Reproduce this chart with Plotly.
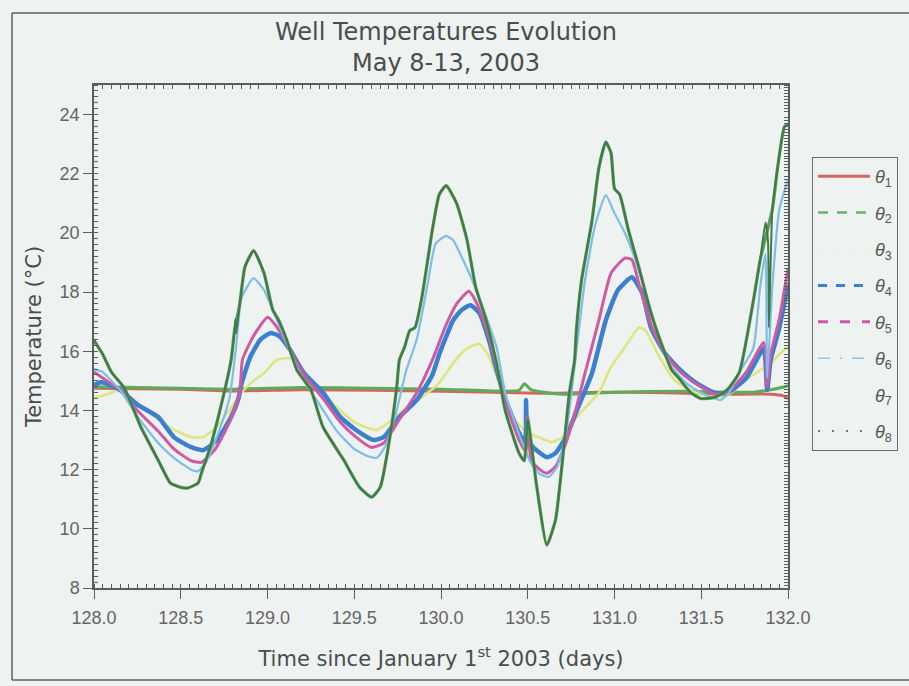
import plotly.graph_objects as go

# ---- measured well temperatures (day of year 2003, deg C) ----
t1 = [128.0, 128.5, 128.8, 129.2, 129.6, 130.0, 130.3, 130.6, 130.9, 131.3, 131.6, 131.9, 131.97, 132.0]
T1 = [14.75, 14.72, 14.66, 14.70, 14.68, 14.65, 14.62, 14.58, 14.62, 14.60, 14.55, 14.55, 14.5, 14.4]

t2 = [128.0, 128.5, 128.8, 129.2, 129.6, 130.0, 130.45, 130.48, 130.52, 130.7, 131.0, 131.4, 131.8, 131.9, 131.98, 132.0]
T2 = [14.8, 14.75, 14.72, 14.78, 14.75, 14.72, 14.68, 14.9, 14.7, 14.55, 14.62, 14.65, 14.62, 14.7, 14.8, 14.85]

t3 = [128.0, 128.05, 128.1, 128.15, 128.25, 128.37, 128.46, 128.56, 128.63, 128.7, 128.78, 128.85,
      128.92, 128.98, 129.05, 129.13, 129.19, 129.27, 129.35, 129.42, 129.51, 129.63, 129.7, 129.8,
      129.89, 129.99, 130.07, 130.15, 130.22, 130.27, 130.33, 130.41, 130.49, 130.56, 130.64, 130.7,
      130.8, 130.91, 130.98, 131.06, 131.14, 131.18, 131.25, 131.35, 131.47, 131.58, 131.65, 131.75,
      131.85, 131.9, 131.95, 132.0]
T3 = [14.45, 14.5, 14.6, 14.7, 14.2, 13.7, 13.35, 13.1, 13.1, 13.4, 14.0, 14.6,
      15.0, 15.26, 15.7, 15.77, 15.47, 14.9, 14.4, 14.0, 13.57, 13.34, 13.6, 14.1,
      14.45, 14.93, 15.6, 16.1, 16.25, 15.9, 15.0, 13.78, 13.3, 13.1, 12.93, 13.1,
      13.9, 14.6, 15.47, 16.14, 16.8, 16.7, 15.9, 15.0, 14.6, 14.45, 14.5, 15.0,
      15.4, 15.6, 15.9, 16.15]

t4 = [128.0, 128.04, 128.1, 128.15, 128.25, 128.37, 128.46, 128.56, 128.63, 128.71, 128.79, 128.83,
      128.85, 128.9, 128.96, 129.02, 129.07, 129.13, 129.21, 129.32, 129.42, 129.51, 129.61, 129.67,
      129.76, 129.86, 129.95, 129.99, 130.03, 130.07, 130.12, 130.17, 130.22, 130.28, 130.31, 130.37,
      130.45, 130.485, 130.49, 130.5, 130.53, 130.61, 130.66, 130.72, 130.79, 130.87, 130.95, 131.02,
      131.1, 131.16, 131.21, 131.29, 131.38, 131.47, 131.58, 131.65, 131.76, 131.86, 131.88, 131.9,
      131.95, 132.0]
T4 = [14.85, 14.95, 14.85, 14.7, 14.2, 13.78, 13.1, 12.76, 12.66, 13.0, 13.78, 14.35,
      14.9, 15.8, 16.4, 16.62, 16.5, 16.05, 15.26, 14.6, 13.78, 13.34, 13.0, 13.1,
      13.78, 14.35, 15.2, 15.9, 16.5, 17.05, 17.4, 17.56, 17.3, 16.3, 15.6, 14.4,
      13.24, 12.9, 14.35, 13.0, 12.76, 12.42, 12.56, 13.1, 14.1, 15.26, 17.05, 18.07,
      18.5, 17.97, 16.8, 15.94, 15.36, 14.93, 14.59, 14.59, 15.1, 16.1, 14.7, 15.7,
      16.8, 18.25]

t5 = [128.0, 128.05, 128.1, 128.15, 128.25, 128.37, 128.46, 128.56, 128.62, 128.7, 128.78, 128.84,
      128.855, 128.9, 128.95, 129.0, 129.05, 129.13, 129.21, 129.32, 129.42, 129.51, 129.6, 129.67,
      129.76, 129.86, 129.95, 130.03, 130.09, 130.16, 130.2, 130.26, 130.32, 130.37, 130.45, 130.49,
      130.5, 130.52, 130.57, 130.61, 130.66, 130.72, 130.78, 130.83, 130.91, 130.98, 131.06, 131.1,
      131.14, 131.21, 131.29, 131.38, 131.47, 131.58, 131.65, 131.76, 131.86, 131.88, 131.9, 131.95,
      132.0]
T5 = [15.3, 15.1, 14.9, 14.7, 14.0, 13.3, 12.7, 12.3, 12.25, 12.7, 13.6, 14.6,
      15.7, 16.3, 16.8, 17.15, 16.85, 16.05, 15.2, 14.4, 13.6, 13.1, 12.75, 12.9,
      13.7, 14.6, 15.7, 16.9, 17.6, 18.03, 17.7, 16.8, 15.5, 14.3, 13.0, 12.6,
      13.8, 12.3, 12.0, 11.88, 12.1, 12.9, 14.1, 15.26, 17.05, 18.64, 19.15, 19.1,
      18.3, 16.9, 15.94, 15.3, 14.9, 14.55, 14.6, 15.3, 16.3, 14.8, 15.9, 17.1,
      18.8]

t6 = [128.0, 128.05, 128.1, 128.15, 128.25, 128.37, 128.46, 128.56, 128.6, 128.65, 128.72, 128.78,
      128.8, 128.82, 128.85, 128.92, 128.98, 129.03, 129.08, 129.13, 129.2, 129.3, 129.4, 129.5,
      129.58, 129.63, 129.68, 129.74, 129.8, 129.86, 129.92, 129.97, 130.03, 130.07, 130.12, 130.18,
      130.24, 130.32, 130.37, 130.45, 130.49, 130.52, 130.57, 130.62, 130.67, 130.72, 130.75, 130.78,
      130.83, 130.89, 130.95, 131.0, 131.06, 131.12, 131.18, 131.25, 131.33, 131.42, 131.5, 131.56,
      131.61, 131.66, 131.72, 131.8, 131.84, 131.87, 131.88, 131.91, 131.95, 132.0]
T6 = [15.4, 15.3, 15.0, 14.7, 13.8, 12.9, 12.4, 12.0, 11.95, 12.3, 13.3, 14.4,
      15.2, 16.2, 17.8, 18.47, 18.07, 17.4, 16.7, 16.0, 15.1, 14.2, 13.3, 12.7,
      12.45, 12.4, 12.8, 13.9, 15.36, 16.4, 18.17, 19.65, 19.9, 19.75, 19.18, 18.4,
      17.5, 16.14, 14.6, 13.2, 12.6, 12.2, 11.85, 11.75, 12.1, 13.2, 14.5, 16.0,
      18.4, 20.3, 21.28, 20.67, 20.0, 19.1, 17.97, 16.6, 15.47, 14.9, 14.6, 14.45,
      14.35, 14.6, 15.3, 16.1, 18.2, 19.3, 15.1, 18.2, 20.8, 21.8]

t7 = [128.0, 128.05, 128.1, 128.175, 128.27, 128.37, 128.44, 128.5, 128.54, 128.6, 128.62, 128.67,
      128.75, 128.79, 128.81, 128.84, 128.87, 128.92, 128.98, 129.03, 129.06, 129.11, 129.17, 129.25,
      129.32, 129.44, 129.53, 129.6, 129.65, 129.7, 129.745, 129.76, 129.79, 129.82, 129.85, 129.89,
      129.95, 129.99, 130.03, 130.09, 130.15, 130.2, 130.26, 130.32, 130.37, 130.45, 130.48, 130.5,
      130.55, 130.61, 130.66, 130.7, 130.74, 130.77, 130.78, 130.81, 130.87, 130.91, 130.95, 130.98,
      131.0, 131.03, 131.08, 131.14, 131.21, 131.29, 131.33, 131.37, 131.44, 131.5, 131.58, 131.65,
      131.72, 131.8, 131.84, 131.91, 131.94, 131.98, 132.0]
T7 = [16.35, 15.9, 15.3, 14.76, 13.44, 12.32, 11.55, 11.4, 11.38, 11.55, 11.9, 12.76,
      14.6, 15.7, 16.7, 17.6, 18.85, 19.4, 18.64, 17.4, 17.1, 16.4, 15.36, 14.7,
      13.44, 12.32, 11.41, 11.07, 11.41, 12.9, 14.8, 15.7, 16.14, 16.7, 16.8, 17.83,
      20.1, 21.3, 21.6, 21.0, 19.76, 18.17, 17.05, 15.6, 14.0, 12.56, 12.3, 13.7,
      11.5, 9.45, 10.3, 12.3, 14.6, 15.7, 16.7, 18.4, 20.4, 22.2, 23.07, 22.7,
      21.5, 21.3, 20.1, 18.85, 17.3, 15.94, 15.36, 15.1, 14.6, 14.4, 14.45, 14.7,
      15.3, 17.7, 19.1, 20.8, 22.2, 23.6, 23.65]

t8 = [128.0, 128.05, 128.1, 128.175, 128.27, 128.37, 128.44, 128.5, 128.54, 128.6, 128.62, 128.67,
      128.75, 128.79, 128.81, 128.815, 128.82, 128.84, 128.87, 128.92, 128.98, 129.03, 129.06, 129.11,
      129.17, 129.25, 129.32, 129.44, 129.53, 129.6, 129.65, 129.7, 129.745, 129.76, 129.79, 129.82,
      129.85, 129.89, 129.95, 129.99, 130.03, 130.09, 130.15, 130.2, 130.26, 130.32, 130.37, 130.45,
      130.48, 130.5, 130.55, 130.61, 130.66, 130.7, 130.74, 130.77, 130.78, 130.81, 130.87, 130.91,
      130.95, 130.98, 131.0, 131.03, 131.08, 131.14, 131.21, 131.29, 131.33, 131.37, 131.44, 131.5,
      131.58, 131.65, 131.72, 131.8, 131.84, 131.87, 131.885, 131.89, 131.91, 131.94, 131.98, 132.0]
T8 = [16.4, 15.9, 15.3, 14.76, 13.44, 12.32, 11.55, 11.4, 11.38, 11.55, 11.9, 12.76,
      14.6, 15.7, 16.7, 17.1, 16.6, 17.6, 18.85, 19.4, 18.64, 17.4, 17.1, 16.4,
      15.36, 14.7, 13.44, 12.32, 11.41, 11.07, 11.41, 12.9, 14.8, 15.7, 16.14, 16.7,
      16.8, 17.83, 20.1, 21.3, 21.6, 21.0, 19.76, 18.17, 17.05, 15.6, 14.0, 12.56,
      12.3, 13.7, 11.5, 9.45, 10.3, 12.3, 14.6, 15.7, 16.7, 18.4, 20.4, 22.2,
      23.07, 22.7, 21.5, 21.3, 20.1, 18.85, 17.3, 15.94, 15.36, 15.1, 14.6, 14.4,
      14.45, 14.7, 15.3, 17.7, 19.1, 20.35, 19.7, 16.8, 20.8, 22.2, 23.6, 23.65]

names = ["<i>θ</i><sub>1</sub>", "<i>θ</i><sub>2</sub>", "<i>θ</i><sub>3</sub>", "<i>θ</i><sub>4</sub>",
         "<i>θ</i><sub>5</sub>", "<i>θ</i><sub>6</sub>", "<i>θ</i><sub>7</sub>", "<i>θ</i><sub>8</sub>"]

BG = "#eef2f0"
AXIS = "#5a5f5c"

# line styles used in the data area: (color, width)
data_style = [
    ("#d2675f", 3.0),   # theta 1
    ("#5eab5a", 3.0),   # theta 2
    ("#dde67a", 2.5),   # theta 3
    ("#3c7ed0", 4.5),   # theta 4
    ("#cf5aa4", 3.0),   # theta 5
    ("#7dbde9", 2.2),   # theta 6
    ("#5b9a58", 3.2),   # theta 7
    ("#3f7b49", 2.0),   # theta 8
]
# samples drawn in the legend box: (color, width, dash)
legend_style = [
    ("#d2675f", 3.0, "solid"),
    ("#6cb266", 2.5, "10px,9px"),
    ("#e6ebb0", 1.5, "2px,14px"),
    ("#3c7ed0", 3.0, "9px,9px"),
    ("#cf5aa4", 3.0, "10px,12px"),
    ("#8cc4ea", 1.6, "12px,10px,2px,10px"),
    (BG, 1.0, "solid"),
    ("#6f7a72", 2.0, "2px,12px"),
]

series = [(t1, T1), (t2, T2), (t3, T3), (t4, T4), (t5, T5), (t6, T6), (t7, T7), (t8, T8)]

fig = go.Figure()

# flat wells first, large-swing wells on top
for i in range(8):
    t, T = series[i]
    col, w = data_style[i]
    fig.add_trace(go.Scatter(
        x=t, y=T, mode="lines", line=dict(color=col, width=w, shape="spline", smoothing=0.5),
        showlegend=False, hoverinfo="skip"))

for i in range(8):
    col, w, dash = legend_style[i]
    fig.add_trace(go.Scatter(
        x=[None], y=[None], mode="lines", name=names[i], legendgroup=f"g{i}",
        line=dict(color=col, width=w, dash=dash)))

# mirrored axes carrying only the inward minor ticks on top and right
fig.add_trace(go.Scatter(x=[None], y=[None], xaxis="x2", yaxis="y2", showlegend=False))

x0, x1, y0, y1 = 94, 788, 588, 85
W, H = 909, 686
pw, ph = x1 - x0, y0 - y1

fig.update_layout(
    width=W, height=H,
    margin=dict(l=x0, r=W - x1, t=y1, b=H - y0, autoexpand=False),
    paper_bgcolor=BG, plot_bgcolor=BG,
    font=dict(family="Liberation Sans, Arial, sans-serif", color="#666"),
    title=dict(
        text="Well Temperatures Evolution<br>May 8-13, 2003",
        x=446 / W, xref="container", xanchor="center",
        y=1 - 40 / H, yref="container", yanchor="top",
        font=dict(family="DejaVu Sans", size=24, color="#4a4d4c"),
    ),
    xaxis=dict(
        range=[128, 132], tick0=128, dtick=0.5, tickformat=".1f",
        ticks="outside", ticklen=9, tickwidth=1.2, tickcolor=AXIS,
        showline=True, linecolor=AXIS, linewidth=1.5, mirror=True,
        showgrid=False, zeroline=False, ticklabelstandoff=4,
        tickfont=dict(size=18, color="#666"),
        minor=dict(dtick=0.05, tick0=128, ticks="inside", ticklen=4, tickcolor=AXIS, showgrid=False),
        title=dict(text="Time since January 1<sup>st</sup> 2003 (days)", standoff=24,
                   font=dict(family="DejaVu Sans", size=21, color="#4a4d4c")),
    ),
    yaxis=dict(
        range=[8, 25], tick0=8, dtick=2,
        ticks="outside", ticklen=9, tickwidth=1.2, tickcolor=AXIS,
        showline=True, linecolor=AXIS, linewidth=1.5, mirror=True,
        showgrid=False, zeroline=False,
        tickfont=dict(size=18, color="#666"),
        minor=dict(dtick=0.2, tick0=8, ticks="inside", ticklen=4, tickcolor=AXIS, showgrid=False),
        title=dict(text="Temperature (°C)", standoff=12,
                   font=dict(family="DejaVu Sans", size=21, color="#4a4d4c")),
    ),
    xaxis2=dict(
        range=[128, 132], overlaying="x", side="top", anchor="y",
        showticklabels=False, ticks="", showline=False, showgrid=False, zeroline=False,
        minor=dict(dtick=0.05, tick0=128, ticks="inside", ticklen=4, tickcolor=AXIS, showgrid=False),
    ),
    yaxis2=dict(
        range=[8, 25], overlaying="y", side="right", anchor="x",
        showticklabels=False, ticks="", showline=False, showgrid=False, zeroline=False,
        minor=dict(dtick=0.1, tick0=8, ticks="inside", ticklen=4, tickcolor=AXIS, showgrid=False),
    ),
    legend=dict(
        x=(812 - x0) / pw, y=(y0 - 157) / ph, xanchor="left", yanchor="top",
        bgcolor=BG, bordercolor="#6a6f6c", borderwidth=1,
        font=dict(family="Liberation Sans", size=18, color="#555"),
        tracegroupgap=10, itemwidth=52, traceorder="grouped",
    ),
)

# outer frame around the figure
frame = dict(type="line", xref="paper", yref="paper", line=dict(color="#5d615f", width=1.5))
fig.add_shape(**frame, x0=(12 - x0) / pw, x1=(12 - x0) / pw, y0=(y0 - 680) / ph, y1=(y0 - 13) / ph)
fig.add_shape(**frame, x0=(12 - x0) / pw, x1=(W - x0) / pw, y0=(y0 - 680) / ph, y1=(y0 - 680) / ph)
fig.add_shape(**frame, x0=(12 - x0) / pw, x1=(W - x0) / pw, y0=(y0 - 13) / ph, y1=(y0 - 13) / ph)

fig.write_html("out.html")
